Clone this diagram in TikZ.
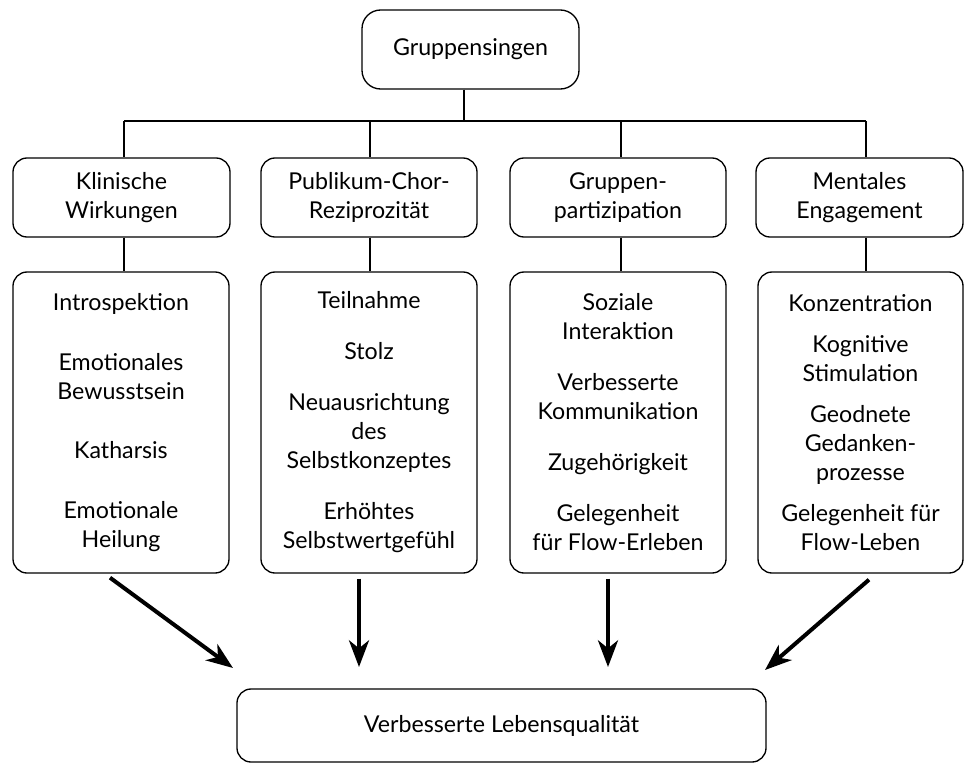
\documentclass[tikz,border=0pt]{standalone}
\usepackage{fontspec}
\setmainfont{Lato}
\usetikzlibrary{arrows.meta}
\begin{document}
\begin{tikzpicture}[x=0.75pt,y=-0.75pt,
  box/.style={draw, line width=1pt, rounded corners=10.5pt, inner sep=0pt, align=center,
    font=\fontsize{17.4}{21.75}\selectfont},
  conn/.style={line width=1pt},
  bigarrow/.style={line width=3pt, -{Stealth[length=20pt,width=15pt,inset=6pt]}}]
\useasboundingbox[fill=white] (0,0) rectangle (964,764);

% top
\node[box, rounded corners=14pt, minimum width=162.75pt, minimum height=59.25pt] (top) at (470.5,49.5) {Gruppensingen};

% children
\node[box, minimum width=162.75pt, minimum height=59.25pt] (c1) at (121.5,197.5) {Klinische\\Wirkungen};
\node[box, minimum width=162pt, minimum height=59.25pt] (c2) at (369,197.5) {Publikum-Chor-\\Reziprozität};
\node[box, minimum width=162pt, minimum height=59.25pt] (c3) at (618,197.5) {Gruppen-\\partizipation};
\node[box, minimum width=155.25pt, minimum height=59.25pt] (c4) at (859.5,197.5) {Mentales\\Engagement};

% big boxes
\node[box, minimum width=162pt, minimum height=225.75pt] (b1) at (121,422.5)
  {Introspektion\\[23pt]Emotionales\\Bewusstsein\\[23pt]Katharsis\\[23pt]Emotionale\\Heilung};
\node[box, minimum width=162pt, minimum height=225.75pt] (b2) at (369,422.5)
  {Teilnahme\\[16.5pt]Stolz\\[16.5pt]Neuausrichtung\\des\\Selbstkonzeptes\\[16.5pt]Erhöhtes\\Selbstwertgefühl};
\node[box, minimum width=162pt, minimum height=225.75pt] (b3) at (618,422.5)
  {Soziale\\Interaktion\\[16.5pt]Verbesserte\\Kommunikation\\[16.5pt]Zugehörigkeit\\[16.5pt]Gelegenheit\\für Flow-Erleben};
\node[box, minimum width=153.75pt, minimum height=225.75pt] (b4) at (860.5,422.5)
  {Konzentration\\[9pt]Kognitive\\Stimulation\\[9pt]Geodnete\\Gedanken-\\prozesse\\[9pt]Gelegenheit für\\Flow-Leben};

% bottom
\node[box, minimum width=396.75pt, minimum height=54.75pt] (bot) at (501.5,725.5) {Verbesserte Lebensqualität};

% bus
\coordinate (j0) at (464,121);
\coordinate (j1) at (124,121);
\coordinate (j2) at (370,121);
\coordinate (j3) at (621,121);
\coordinate (j4) at (866,121);
\draw[conn] (top.south -| j0) -- (j0);
\draw[conn] (j1) -- (j4);
\foreach \i in {1,2,3,4}{
  \draw[conn] (j\i) -- (j\i |- c\i.north);
  \draw[conn] (j\i |- c\i.south) -- (j\i |- b\i.north);
}

% arrows
\coordinate (a1) at (233,668);
\coordinate (a2) at (359,667);
\coordinate (a3) at (608,667);
\coordinate (a4) at (765,670);
\draw[bigarrow] ([shift={(-11,4)}]b1.south) -- (a1);
\draw[bigarrow] (a2 |- b2.south) ++(0,5) -- (a2);
\draw[bigarrow] (a3 |- b3.south) ++(0,5) -- (a3);
\draw[bigarrow] ([shift={(8.5,6)}]b4.south) -- (a4);
\end{tikzpicture}
\end{document}
